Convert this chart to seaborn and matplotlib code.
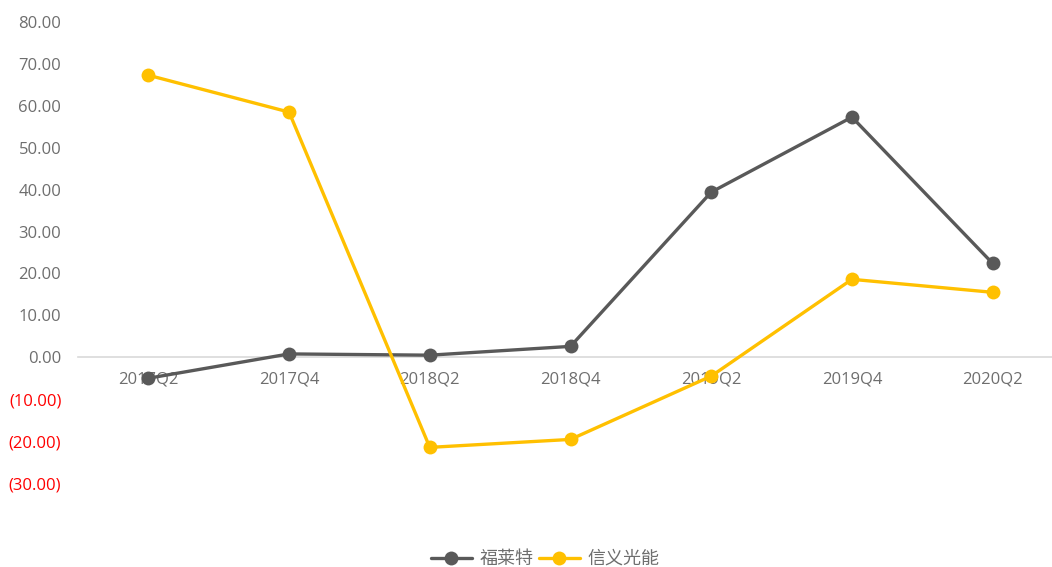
import matplotlib
matplotlib.use("Agg")
import matplotlib.pyplot as plt
import seaborn as sns
import pandas as pd

categories = ["2017Q2", "2017Q4", "2018Q2", "2018Q4", "2019Q2", "2019Q4", "2020Q2"]
flat_glass = [-5.0, 0.8, 0.5, 2.6, 39.4, 57.3, 22.4]      # 福莱特
xinyi_solar = [67.3, 58.5, -21.5, -19.6, -4.5, 18.6, 15.5]  # 信义光能
series_names = ["福莱特", "信义光能"]
colors = ["#595959", "#FFC000"]
yticks = [-30, -20, -10, 0, 10, 20, 30, 40, 50, 60, 70, 80]

sns.set_theme(style="white")
plt.rcParams['font.family'] = ['Noto Sans CJK SC', 'DejaVu Sans']

df = pd.DataFrame({
    "period": categories * 2,
    "value": flat_glass + xinyi_solar,
    "series": [series_names[0]] * len(categories) + [series_names[1]] * len(categories),
})

fig = plt.figure(figsize=(10.52, 5.67), dpi=100)
ax = fig.add_axes([78 / 1052, (567 - 483) / 567, (1063 - 78) / 1052, (483 - 22) / 567])

sns.lineplot(data=df, x="period", y="value", hue="series", palette=colors,
             marker="o", markersize=10, markeredgewidth=0, linewidth=2.4,
             sort=False, ax=ax, legend=True)

for s in ["top", "right", "left"]:
    ax.spines[s].set_visible(False)
ax.spines["bottom"].set_position(("data", 0))
ax.spines["bottom"].set_color("#d9d9d9")
ax.spines["bottom"].set_linewidth(1.2)
ax.spines["bottom"].set_zorder(0)
ax.set_xlabel("")
ax.set_ylabel("")
ax.grid(False)

ax.set_xlim(-0.5, 6.5)
ax.set_ylim(-30, 80)
ax.set_yticks(yticks)

def fmt(v):
    return f"({abs(v):.2f})" if v < 0 else f"{v:.2f}"

ax.set_yticklabels([fmt(v) for v in yticks])
ax.set_xticks(range(len(categories)))
ax.set_xticklabels(categories)
ax.tick_params(axis="both", length=0)
ax.tick_params(axis="y", pad=12)
ax.tick_params(axis="x", pad=10)

for lab, v in zip(ax.get_yticklabels(), yticks):
    lab.set_color("#FF0000" if v < 0 else "#6e6e6e")
    lab.set_fontsize(12)
    lab.set_family(["Open Sans", "DejaVu Sans"])
for lab in ax.get_xticklabels():
    lab.set_color("#6e6e6e")
    lab.set_fontsize(12)
    lab.set_family(["Open Sans", "DejaVu Sans"])

handles, labels = ax.get_legend_handles_labels()
ax.legend_.remove()
leg = fig.legend(handles, labels, loc="center", bbox_to_anchor=(545 / 1052, (567 - 559) / 567),
                 ncol=2, frameon=False, fontsize=13, handlelength=2.3,
                 handletextpad=0.4, columnspacing=0.3)
for t in leg.get_texts():
    t.set_color("#6e6e6e")

fig.savefig("out.png", dpi=100)
